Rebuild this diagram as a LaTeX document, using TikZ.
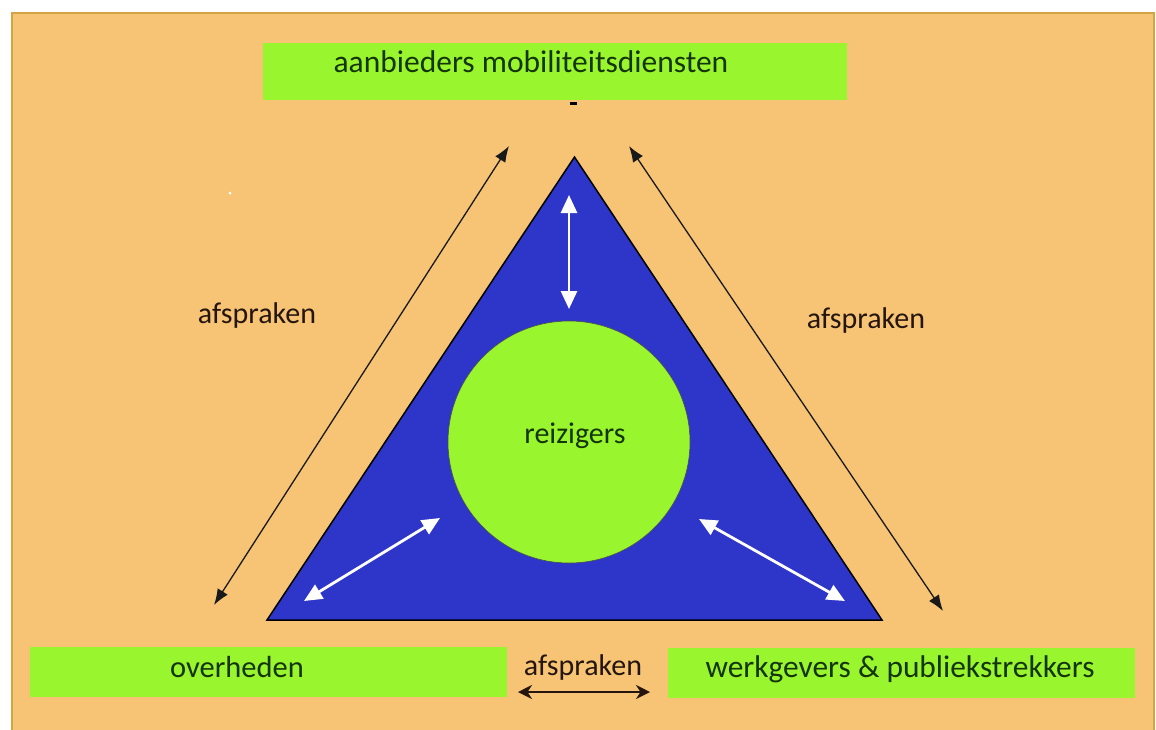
\documentclass[tikz,border=0pt]{standalone}
\usepackage{fontspec}
\setmainfont{Carlito}
\usetikzlibrary{arrows.meta}
\definecolor{bgorange}{HTML}{F7C475}
\definecolor{frameline}{HTML}{D2A544}
\definecolor{limegreen}{HTML}{99F52E}
\definecolor{triblue}{HTML}{2E36C9}
\definecolor{darkgreentext}{HTML}{143409}
\definecolor{browntext}{HTML}{24150E}
\tikzset{
  greenbox/.style={fill=limegreen, draw=none, inner sep=0pt},
  boxlabel/.style={text=darkgreentext, font=\fontsize{30}{36}\selectfont, anchor=base, inner sep=0pt},
  agreelabel/.style={text=browntext, font=\fontsize{30}{36}\selectfont, anchor=base, inner sep=0pt},
  whitearrow/.style={draw=white, line width=2.8pt, >={Triangle[length=18pt,width=16pt]}, <->},
  blackarrow/.style={draw=black!90, line width=1.3pt, >={Latex[length=16pt,width=12pt]}, <->},
  thickarrow/.style={draw=browntext, line width=2.6pt, >={Stealth[length=14pt,width=14pt]}, <->}
}
\begin{document}
\begin{tikzpicture}[x=1pt,y=-1pt]
\useasboundingbox (0,0) rectangle (1156,729);
\fill[white] (0,0) rectangle (1156,729);
% background panel
\fill[bgorange] (12,13) rectangle (1154,735);
\draw[frameline, line width=2pt] (12,740) -- (12,13) -- (1154,13) -- (1154,740);
% boxes
\node[greenbox, minimum width=584pt, minimum height=57pt] (topbox) at (555,71.5) {};
\node[greenbox, minimum width=477pt, minimum height=50pt] (leftbox) at (268.5,672) {};
\node[greenbox, minimum width=467pt, minimum height=50pt] (rightbox) at (901.5,673) {};
\node[boxlabel, font=\fontsize{31.5}{36}\selectfont] (toplabel) at (531,72) {aanbieders mobiliteitsdiensten};
\node[boxlabel, font=\fontsize{30.5}{36}\selectfont] (leftlabel) at (237,677) {overheden};
\node[boxlabel, font=\fontsize{31.4}{36}\selectfont] (rightlabel) at (900,677) {werkgevers \& publiekstrekkers};
\fill[black] (570,102) rectangle (577,104.5);
% triangle
\coordinate (apex) at (574.5,157);
\coordinate (baseL) at (267,620);
\coordinate (baseR) at (882,620);
\draw[fill=triblue, draw=black, line width=1.5pt, line join=miter] (apex) -- (baseL) -- (baseR) -- cycle;
% circle
\node[circle, fill=limegreen, draw=black!70, line width=0.6pt, minimum size=242pt, inner sep=0pt] (circ) at (569,442) {};
\node[boxlabel] (circlabel) at (575,443) {reizigers};
% white arrows
\coordinate (wa1) at (569,195);
\coordinate (wa2) at (569,309);
\coordinate (wb1) at (304,601);
\coordinate (wb2) at (440,518);
\coordinate (wc1) at (699,519);
\coordinate (wc2) at (845,601);
\draw[whitearrow] (wa1) -- (wa2);
\draw[whitearrow] (wb1) -- (wb2);
\draw[whitearrow] (wc1) -- (wc2);
% black arrows
\coordinate (la1) at (214,605);
\coordinate (la2) at (509,146);
\coordinate (ra1) at (629,146);
\coordinate (ra2) at (943,611);
\draw[blackarrow] (la1) -- (la2);
\draw[blackarrow] (ra1) -- (ra2);
\node[agreelabel] (leftagree) at (257,323) {afspraken};
\node[agreelabel] (rightagree) at (866,328) {afspraken};
\node[agreelabel] (midagree) at (583,675) {afspraken};
\coordinate (ma1) at (518,692);
\coordinate (ma2) at (650,692);
\draw[thickarrow] (ma1) -- (ma2);
% tiny white speck
\fill[white] (230,193) circle (1.5pt);
\end{tikzpicture}
\end{document}
